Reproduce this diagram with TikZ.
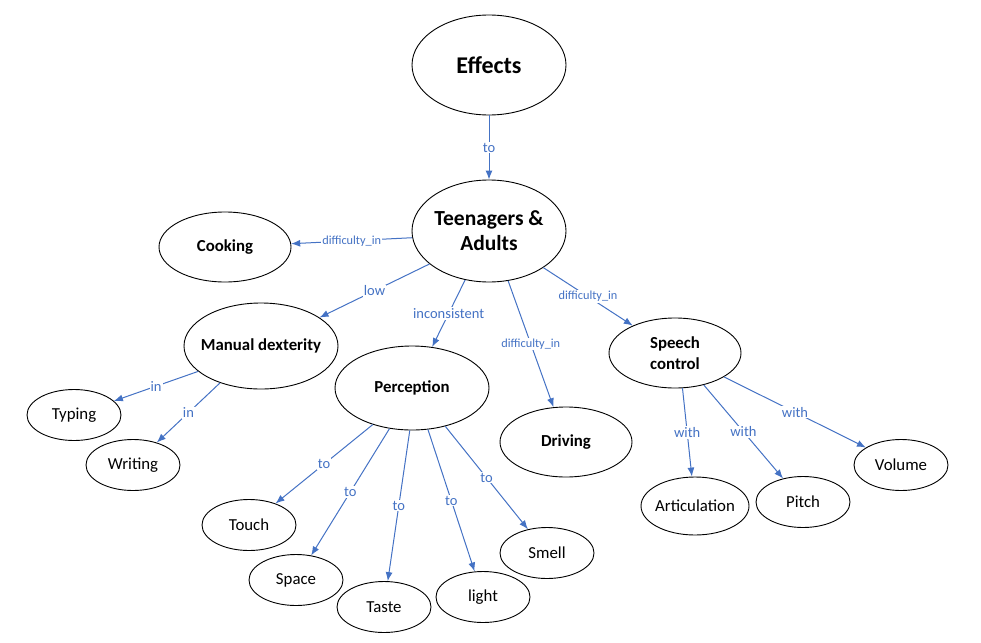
\documentclass[tikz,border=0pt]{standalone}
\usepackage{fontspec}
\setmainfont{Carlito}
\usetikzlibrary{shapes.geometric,arrows.meta}
\definecolor{linkblue}{HTML}{4472C4}
\begin{document}
\begin{tikzpicture}[x=1pt,y=1pt,
        bub/.style={ellipse,draw,line width=0.9pt,inner xsep=-10pt,inner ysep=0pt,align=center,minimum width=94,minimum height=51,font=\fontsize{16.8}{20.5}\selectfont},
        hd/.style={bub,minimum width=132,minimum height=70,font=\fontsize{16.8}{20.5}\selectfont\bfseries},
        lbl/.style={fill=white,inner sep=1pt,text=linkblue,font=\fontsize{14.5}{16}\selectfont},
        slbl/.style={lbl,font=\fontsize{12.3}{14}\selectfont},
        rel/.style={draw=linkblue,line width=1pt,-{Latex[length=9pt,width=7pt]}}]
        \useasboundingbox (0,0) rectangle (981,-642);
        \node[hd,minimum width=154,minimum height=100,font=\fontsize{24}{28}\selectfont\bfseries] (eff) at (489,-65) {Effects};
        \node[hd,minimum width=154,minimum height=102,font=\fontsize{21.5}{25}\selectfont\bfseries] (teen) at (489,-231) {Teenagers \&\\Adults};
        \node[hd] (cook) at (225,-247) {Cooking};
        \node[hd,minimum width=154,minimum height=86] (man) at (261,-346) {Manual dexterity};
        \node[hd,minimum width=154,minimum height=84] (perc) at (412,-388) {Perception};
        \node[hd] (drive) at (566,-442) {Driving};
        \node[hd] (speech) at (675,-353) {Speech\\control};
        \node[bub] (typ) at (74,-415) {Typing};
        \node[bub] (wri) at (133,-465) {Writing};
        \node[bub] (tou) at (249,-525) {Touch};
        \node[bub] (spa) at (296,-580) {Space};
        \node[bub] (tas) at (384,-607) {Taste};
        \node[bub] (lig) at (483,-597) {light};
        \node[bub] (sme) at (547,-553) {Smell};
        \node[bub,minimum width=108,minimum height=58] (art) at (695,-506) {Articulation};
        \node[bub] (pit) at (803,-502) {Pitch};
        \node[bub] (vol) at (901,-465) {Volume};
        \draw[rel] (eff) -- node[lbl] {to} (teen);
        \draw[rel] (teen.185) -- node[slbl] {difficulty\_in} (cook);
        \draw[rel] (teen.209) -- node[lbl] {low} (man);
        \draw[rel] (teen.244) -- node[lbl] {inconsistent} (perc);
        \draw[rel] (teen.291) -- node[slbl] {difficulty\_in} (drive);
        \draw[rel] (teen.326) -- node[slbl] {difficulty\_in} (speech);
        \draw[rel] (man.202) -- node[lbl] {in} (typ);
        \draw[rel] (man.222) -- node[lbl] {in} (wri);
        \draw[rel] (perc.223) -- node[lbl] {to} (tou);
        \draw[rel] (perc.241) -- node[lbl] {to} (spa);
        \draw[rel] (perc.267) -- node[lbl] {to} (tas);
        \draw[rel] (perc.291) -- node[lbl] {to} (lig);
        \draw[rel] (perc.311) -- node[lbl] {to} (sme);
        \draw[rel] (speech.282) -- node[lbl] {with} (art);
        \draw[rel] (speech.312) -- node[lbl] {with} (pit);
        \draw[rel] (speech.334) -- node[lbl] {with} (vol);
\end{tikzpicture}
\end{document}
